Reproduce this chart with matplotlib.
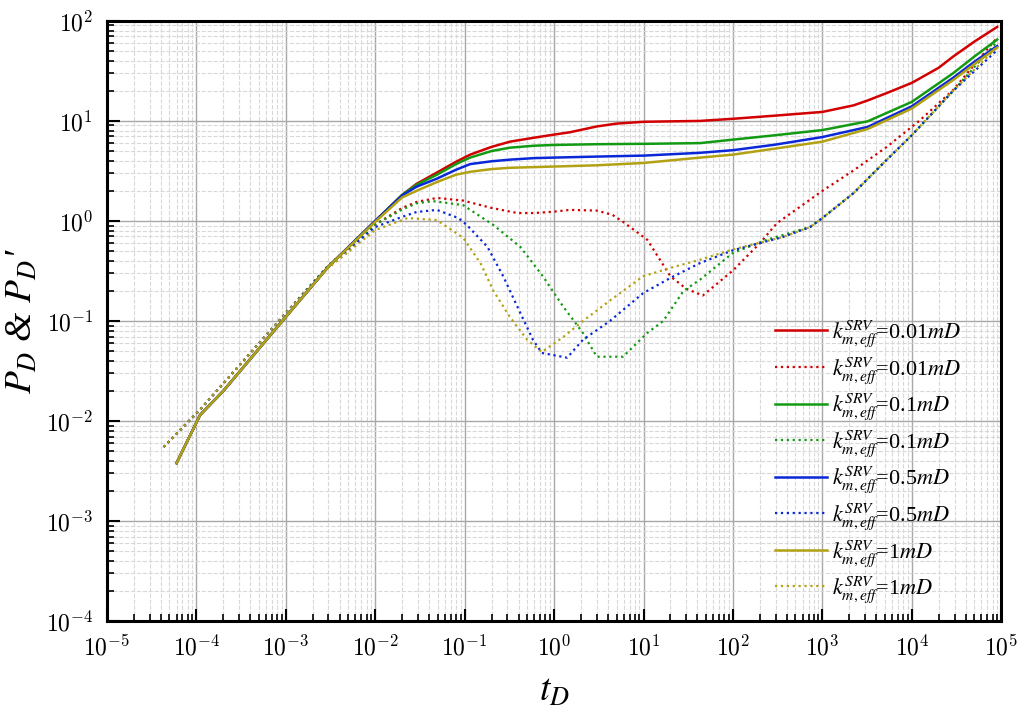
import matplotlib
matplotlib.use('Agg')
import matplotlib.pyplot as plt
import matplotlib.ticker as mtick
import numpy as np

plt.rcParams['font.family'] = 'serif'
plt.rcParams['font.serif'] = ['Liberation Serif', 'DejaVu Serif']
plt.rcParams['mathtext.fontset'] = 'stix'

# solid curves (P_D)
t_red = [6e-5, 1.1e-4, 2e-4, 1e-3, 3e-3, 0.01, 0.02, 0.029, 0.049, 0.08, 0.115, 0.2, 0.32, 0.6, 1, 1.5, 3, 5, 10, 43, 100, 300, 1000, 2230, 3200, 5250, 1e4, 2e4, 2.9e4, 5e4, 9e4]
p_red = [0.0038, 0.0115, 0.02, 0.11, 0.35, 1.0, 1.82, 2.35, 3.05, 3.9, 4.6, 5.5, 6.2, 6.8, 7.3, 7.7, 8.8, 9.4, 9.8, 10.0, 10.5, 11.3, 12.3, 14.3, 16, 19, 24, 34, 44, 62, 87]

t_green = [6e-5, 1.1e-4, 2e-4, 1e-3, 3e-3, 0.01, 0.02, 0.029, 0.049, 0.08, 0.115, 0.2, 0.32, 0.6, 1, 3, 10, 43, 100, 300, 1000, 3200, 1e4, 2.9e4, 5e4, 9e4]
p_green = [0.0038, 0.0115, 0.02, 0.11, 0.35, 1.0, 1.82, 2.3, 2.9, 3.7, 4.3, 5.0, 5.4, 5.65, 5.75, 5.85, 5.9, 6.0, 6.5, 7.2, 8.1, 9.9, 15.5, 30, 44, 65]

t_blue = [6e-5, 1.1e-4, 2e-4, 1e-3, 3e-3, 0.01, 0.02, 0.029, 0.049, 0.08, 0.115, 0.2, 0.32, 0.6, 1, 3, 10, 43, 100, 300, 1000, 3200, 1e4, 2.9e4, 5e4, 9e4]
p_blue = [0.0038, 0.0115, 0.02, 0.11, 0.35, 1.0, 1.8, 2.2, 2.65, 3.25, 3.7, 3.95, 4.1, 4.25, 4.3, 4.4, 4.5, 4.8, 5.1, 5.8, 6.9, 8.7, 14, 27, 39, 56]

t_olive = [6e-5, 1.1e-4, 2e-4, 1e-3, 3e-3, 0.01, 0.02, 0.029, 0.049, 0.08, 0.115, 0.2, 0.32, 1, 3, 10, 43, 100, 300, 1000, 3200, 1e4, 2.9e4, 5e4, 9e4]
p_olive = [0.0038, 0.0115, 0.02, 0.11, 0.35, 0.98, 1.72, 2.0, 2.45, 2.9, 3.1, 3.3, 3.4, 3.5, 3.6, 3.8, 4.3, 4.6, 5.3, 6.2, 8.3, 13.3, 25.6, 37, 54]

# dotted curves (derivative P_D')
td_red = [4.3e-5, 1.1e-4, 1e-3, 3e-3, 0.01, 0.02, 0.029, 0.049, 0.096, 0.2, 0.39, 0.6, 1.0, 1.5, 3.0, 4.5, 5.9, 11, 20, 30, 46, 100, 200, 310, 1000, 2230, 5250, 1.24e4, 2.9e4, 9e4]
pd_red = [0.0055, 0.013, 0.12, 0.36, 0.92, 1.35, 1.55, 1.7, 1.6, 1.35, 1.2, 1.2, 1.24, 1.29, 1.27, 1.15, 0.98, 0.65, 0.28, 0.21, 0.18, 0.32, 0.6, 0.95, 2.0, 3.2, 5.5, 10.2, 20.4, 68]

td_green = [4.3e-5, 1.1e-4, 1e-3, 3e-3, 0.01, 0.02, 0.029, 0.044, 0.096, 0.21, 0.42, 0.75, 1.26, 2.1, 3.0, 5.9, 11, 16.6, 28, 43, 100, 240, 730, 1000, 2230, 5250, 1e4, 2.9e4, 9e4]
pd_green = [0.0055, 0.013, 0.12, 0.36, 0.92, 1.3, 1.5, 1.58, 1.44, 0.91, 0.55, 0.28, 0.14, 0.076, 0.044, 0.044, 0.076, 0.10, 0.2, 0.26, 0.48, 0.65, 0.87, 1.07, 1.9, 4.1, 7.2, 20, 62]

td_blue = [4.3e-5, 1.1e-4, 1e-3, 3e-3, 0.01, 0.02, 0.029, 0.049, 0.085, 0.106, 0.18, 0.27, 0.42, 0.58, 0.73, 1.4, 2.1, 4.2, 9.9, 20, 43, 100, 360, 730, 1000, 2230, 5250, 1e4, 2.9e4, 9e4]
pd_blue = [0.0055, 0.013, 0.12, 0.35, 0.87, 1.1, 1.23, 1.29, 1.07, 0.91, 0.55, 0.28, 0.12, 0.065, 0.048, 0.043, 0.065, 0.10, 0.19, 0.27, 0.38, 0.51, 0.69, 0.87, 1.07, 1.9, 4.1, 7.2, 20, 51]

td_olive = [4.3e-5, 1.1e-4, 1e-3, 3e-3, 0.01, 0.023, 0.049, 0.096, 0.15, 0.21, 0.32, 0.5, 0.73, 1.26, 2.1, 4.2, 9.9, 20, 43, 100, 360, 730, 1000, 2230, 5250, 1e4, 2.9e4, 9e4]
pd_olive = [0.0055, 0.013, 0.12, 0.34, 0.81, 1.07, 1.02, 0.68, 0.38, 0.2, 0.11, 0.065, 0.049, 0.069, 0.10, 0.16, 0.28, 0.34, 0.41, 0.52, 0.69, 0.87, 1.07, 1.9, 4.1, 7.2, 20, 55]

perms = ['0.01', '0.1', '0.5', '1']
colors = ['#d20000', '#139a13', '#0a28d8', '#b3a114']

solids = [(t_red, p_red), (t_green, p_green), (t_blue, p_blue), (t_olive, p_olive)]
dots = [(td_red, pd_red), (td_green, pd_green), (td_blue, pd_blue), (td_olive, pd_olive)]

fig = plt.figure(figsize=(10.28, 7.19), dpi=100)
ax = fig.add_axes([0.104, 0.136, 0.870, 0.835])

for k, c, (ts, ps), (td, pd) in zip(perms, colors, solids, dots):
    lab = r'$k_{m,eff}^{SRV}$=' + k + r'$mD$'
    ax.plot(ts, ps, '-', color=c, lw=1.8, label=lab)
    ax.plot(td, pd, ':', color=c, lw=1.6, label=lab)

ax.set_xscale('log')
ax.set_yscale('log')
ax.set_xlim(1e-5, 1e5)
ax.set_ylim(1e-4, 1e2)
ax.xaxis.set_major_locator(mtick.LogLocator(base=10, numticks=20))
ax.yaxis.set_major_locator(mtick.LogLocator(base=10, numticks=20))
ax.xaxis.set_minor_locator(mtick.LogLocator(base=10, subs=np.arange(2, 10), numticks=40))
ax.yaxis.set_minor_locator(mtick.LogLocator(base=10, subs=np.arange(2, 10), numticks=40))
pow_fmt = mtick.FuncFormatter(lambda v, pos: r'$10^{%d}$' % int(round(np.log10(v))))
ax.xaxis.set_major_formatter(pow_fmt)
ax.yaxis.set_major_formatter(pow_fmt)

ax.grid(True, which='major', color='#a8a8a8', lw=1.0, ls='-')
ax.grid(True, which='minor', color='#d8d8d8', lw=0.8, ls='--')
ax.set_axisbelow(True)

ax.tick_params(which='both', direction='in', top=False, right=False, labelsize=17, pad=10)
ax.tick_params(which='major', length=9, width=1.5)
ax.tick_params(which='minor', length=5, width=1.2)
for lbl in ax.get_xticklabels() + ax.get_yticklabels():
    lbl.set_math_fontfamily('cm')
for s in ax.spines.values():
    s.set_linewidth(2.2)

ax.set_xlabel(r'$t_D$', fontsize=27, labelpad=10)
ax.set_ylabel('$P_D$ & $P_D$\u2032', fontsize=27, style='italic', labelpad=4)

ax.legend(loc='lower right', bbox_to_anchor=(0.965, 0.012), borderaxespad=0, frameon=False,
          fontsize=16, handlelength=2.3, labelspacing=0.25, handletextpad=0.25)

plt.savefig('out.png', dpi=100)
